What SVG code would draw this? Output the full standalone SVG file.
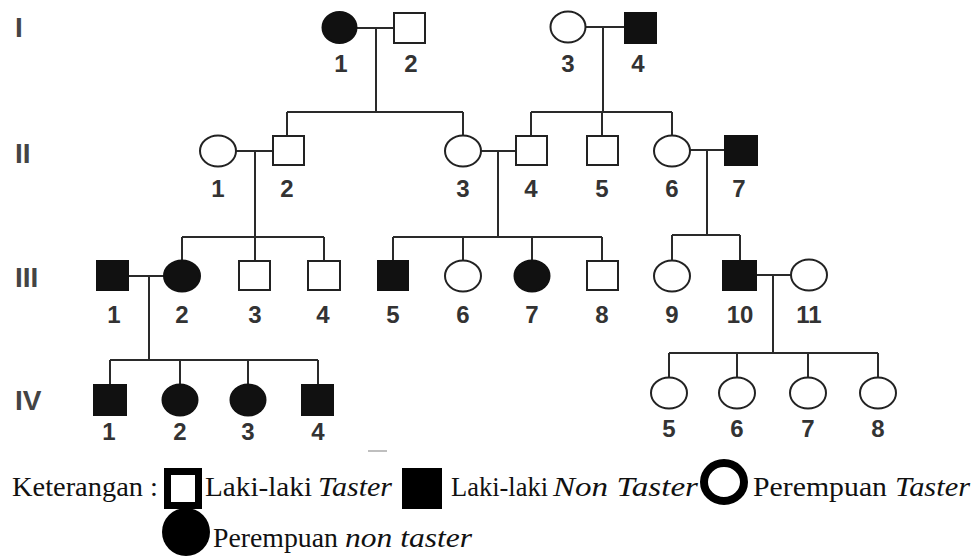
<svg xmlns="http://www.w3.org/2000/svg" width="980" height="556" viewBox="0 0 980 556">
<style>
.o{fill:#fff;stroke:#222;stroke-width:2}
.f{fill:#111;stroke:#111;stroke-width:2}
.ln{fill:none;stroke:#2a2a2a;stroke-width:2}
.num{font-family:"Liberation Sans",Arial,sans-serif;font-weight:bold;font-size:24px;fill:#333;text-anchor:middle}
.gen{font-family:"Liberation Sans",Arial,sans-serif;font-weight:bold;font-size:28px;fill:#444}
.lg{font-family:"Liberation Serif","Times New Roman",serif;font-size:28px;fill:#111}
.it{font-style:italic}
</style>
<rect width="980" height="556" fill="#fff"/>
<g id="gen-labels">
<text class="gen" x="15" y="37">I</text>
<text class="gen" x="15" y="163">II</text>
<text class="gen" x="15" y="287">III</text>
<text class="gen" x="15" y="410">IV</text>
</g>
<g id="connectors">
<path class="ln" d="M357 28H394M376 28V112M287 112H463M287 112V136M463 112V135"/>
<path class="ln" d="M586 27H625M603 27V112M531 112H672M531 112V136M602 112V136M672 112V135"/>
<path class="ln" d="M236 151H273M255 151V237M182 237H324M182 237V260M255 237V261M324 237V261"/>
<path class="ln" d="M481 151H516M498 151V237M393 237H602M393 237V261M463 237V260M532 237V260M602 237V261"/>
<path class="ln" d="M690 150H725M707 150V235M672 235H740M672 235V260M740 235V261"/>
<path class="ln" d="M128 276H164M149 276V360M110 360H318M110 360V385M180 360V384M248 360V384M318 360V385"/>
<path class="ln" d="M756 275H791M773 275V353M669 353H878M669 353V377M737 353V377M808 353V377M878 353V377"/>
</g>
<g id="I-1"><ellipse class="f" cx="339.5" cy="27.5" rx="17" ry="15.5"/><text class="num" x="341" y="72">1</text></g>
<g id="I-2"><rect class="o" x="394" y="13" width="31" height="30"/><text class="num" x="411" y="72">2</text></g>
<g id="I-3"><ellipse class="o" cx="568" cy="27" rx="17.5" ry="15.5"/><text class="num" x="568" y="72">3</text></g>
<g id="I-4"><rect class="f" x="625" y="13" width="31" height="30"/><text class="num" x="638" y="72">4</text></g>
<g id="II-1"><ellipse class="o" cx="218" cy="151" rx="18" ry="15.5"/><text class="num" x="218" y="197">1</text></g>
<g id="II-2"><rect class="o" x="273" y="136" width="31" height="29"/><text class="num" x="287" y="197">2</text></g>
<g id="II-3"><ellipse class="o" cx="463" cy="151" rx="18" ry="15.5"/><text class="num" x="463" y="197">3</text></g>
<g id="II-4"><rect class="o" x="516" y="136" width="31" height="29"/><text class="num" x="531" y="197">4</text></g>
<g id="II-5"><rect class="o" x="587" y="136" width="31" height="29"/><text class="num" x="602" y="197">5</text></g>
<g id="II-6"><ellipse class="o" cx="672" cy="151" rx="18" ry="15.5"/><text class="num" x="672" y="197">6</text></g>
<g id="II-7"><rect class="f" x="725" y="136" width="32" height="29"/><text class="num" x="739" y="197">7</text></g>
<g id="III-1"><rect class="f" x="97" y="261" width="31" height="29"/><text class="num" x="114" y="323">1</text></g>
<g id="III-2"><ellipse class="f" cx="182" cy="276" rx="18" ry="15.5"/><text class="num" x="182" y="323">2</text></g>
<g id="III-3"><rect class="o" x="239" y="261" width="31" height="29"/><text class="num" x="255" y="323">3</text></g>
<g id="III-4"><rect class="o" x="308" y="261" width="32" height="29"/><text class="num" x="323" y="323">4</text></g>
<g id="III-5"><rect class="f" x="378" y="261" width="30" height="29"/><text class="num" x="393" y="323">5</text></g>
<g id="III-6"><ellipse class="o" cx="463" cy="276" rx="18" ry="15.5"/><text class="num" x="463" y="323">6</text></g>
<g id="III-7"><ellipse class="f" cx="532" cy="276" rx="17.5" ry="15.5"/><text class="num" x="532" y="323">7</text></g>
<g id="III-8"><rect class="o" x="587" y="261" width="31" height="29"/><text class="num" x="602" y="323">8</text></g>
<g id="III-9"><ellipse class="o" cx="672" cy="276" rx="18" ry="15.5"/><text class="num" x="672" y="323">9</text></g>
<g id="III-10"><rect class="f" x="723" y="261" width="33" height="29"/><text class="num" x="740" y="323">10</text></g>
<g id="III-11"><ellipse class="o" cx="809" cy="275" rx="18" ry="15.5"/><text class="num" x="809" y="323">11</text></g>
<g id="IV-1"><rect class="f" x="94" y="385" width="32" height="30"/><text class="num" x="109" y="440">1</text></g>
<g id="IV-2"><ellipse class="f" cx="180" cy="400" rx="17.5" ry="15.5"/><text class="num" x="180" y="440">2</text></g>
<g id="IV-3"><ellipse class="f" cx="248" cy="400" rx="17.5" ry="15.5"/><text class="num" x="248" y="440">3</text></g>
<g id="IV-4"><rect class="f" x="302" y="385" width="31" height="30"/><text class="num" x="318" y="440">4</text></g>
<g id="IV-5"><ellipse class="o" cx="669" cy="393" rx="18" ry="15.5"/><text class="num" x="669" y="437">5</text></g>
<g id="IV-6"><ellipse class="o" cx="737" cy="393" rx="18" ry="15.5"/><text class="num" x="737" y="437">6</text></g>
<g id="IV-7"><ellipse class="o" cx="808" cy="393" rx="18" ry="15.5"/><text class="num" x="808" y="437">7</text></g>
<g id="IV-8"><ellipse class="o" cx="878" cy="393" rx="18" ry="15.5"/><text class="num" x="878" y="437">8</text></g>
<line x1="368" y1="451" x2="387" y2="451" stroke="#aaa" stroke-width="1.5"/>
<g id="legend">
<text class="lg" x="12" y="496" textLength="146" lengthAdjust="spacingAndGlyphs">Keterangan :</text>
<rect x="167.5" y="471.5" width="31" height="34" fill="#fff" stroke="#000" stroke-width="7"/>
<text class="lg" x="205" y="496" textLength="107" lengthAdjust="spacingAndGlyphs">Laki-laki</text>
<text class="lg it" x="318" y="496" textLength="74" lengthAdjust="spacingAndGlyphs">Taster</text>
<rect x="402" y="468" width="40" height="41" fill="#000"/>
<text class="lg" x="451" y="496" textLength="97" lengthAdjust="spacingAndGlyphs">Laki-laki</text>
<text class="lg it" x="553" y="496" textLength="145" lengthAdjust="spacingAndGlyphs">Non Taster</text>
<ellipse cx="724" cy="482" rx="20" ry="19" fill="#fff" stroke="#000" stroke-width="8"/>
<text class="lg" x="753" y="496" textLength="134" lengthAdjust="spacingAndGlyphs">Perempuan</text>
<text class="lg it" x="895" y="496" textLength="75" lengthAdjust="spacingAndGlyphs">Taster</text>
<ellipse cx="186" cy="532" rx="24" ry="24" fill="#000"/>
<text class="lg" x="213" y="547" textLength="125" lengthAdjust="spacingAndGlyphs">Perempuan</text>
<text class="lg it" x="345" y="547" textLength="127" lengthAdjust="spacingAndGlyphs">non taster</text>
</g>
</svg>
